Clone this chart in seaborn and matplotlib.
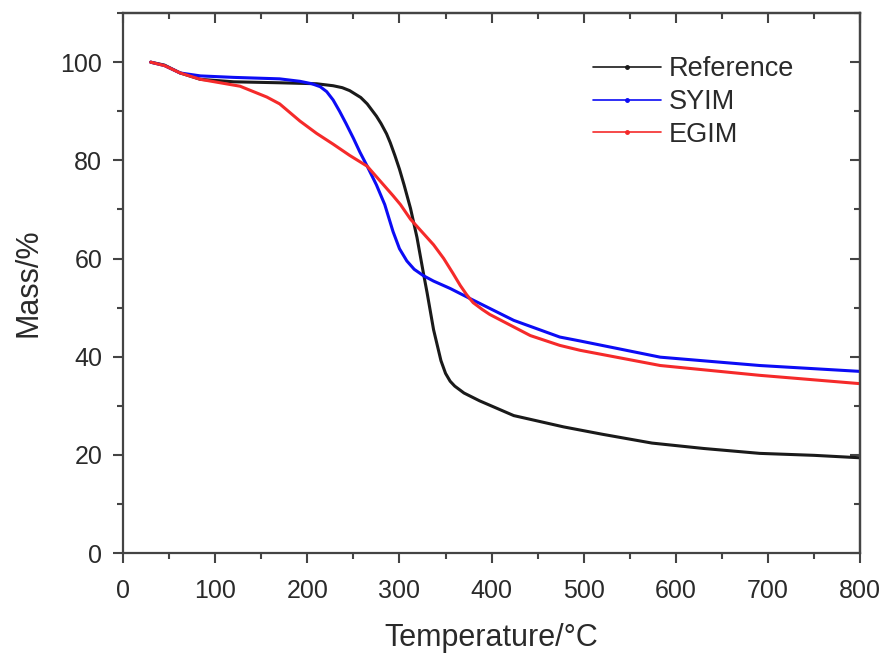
# Curvas TGA: Reference / SYIM / EGIM

import pandas as pd
import seaborn as sns
import matplotlib.pyplot as plt
from matplotlib.ticker import MultipleLocator
from matplotlib.lines import Line2D

sns.set_theme(style="ticks")
plt.rcParams['font.family'] = ['Liberation Sans', 'DejaVu Sans']

# Datos (Temperatura °C, Masa %)
ref_temp = [30, 45, 62, 84, 120, 170, 210, 228, 238, 246, 258, 265, 275, 280, 286, 290, 295, 300, 305, 312,
            319, 326, 330, 337, 345, 350, 355, 360, 370, 387, 424, 478, 520, 574, 630, 691, 750, 800]
ref_mass = [100, 99.4, 97.8, 96.5, 96.0, 95.8, 95.6, 95.2, 94.8, 94.2, 92.8, 91.5, 89.0, 87.5, 85.4, 83.6, 81.0, 78.2, 75.0, 70.2,
            64.3, 57.0, 53.0, 45.5, 39.2, 36.6, 35.0, 34.0, 32.6, 31.0, 28.0, 25.7, 24.2, 22.4, 21.3, 20.3, 19.9, 19.4]

syim_temp = [30, 45, 62, 84, 120, 170, 192, 205, 214, 221, 228, 235, 242, 250, 257, 265, 275, 284, 293,
             300, 308, 316, 326, 337, 355, 377, 424, 474, 496, 583, 691, 800]
syim_mass = [100, 99.3, 97.8, 97.2, 96.9, 96.6, 96.1, 95.6, 95.0, 94.0, 92.3, 90.0, 87.5, 84.5, 81.7, 78.8, 75.0, 71.0, 65.5,
             62.0, 59.5, 57.8, 56.5, 55.4, 53.9, 51.8, 47.4, 44.0, 43.2, 39.9, 38.2, 37.0]

egim_temp = [30, 45, 62, 84, 127, 156, 170, 192, 210, 228, 246, 265, 279, 293, 301, 312, 325,
             337, 348, 358, 366, 373, 380, 390, 398, 442, 474, 496, 583, 691, 800]
egim_mass = [100, 99.3, 97.8, 96.5, 95.1, 92.9, 91.5, 88.0, 85.5, 83.3, 81.0, 78.8, 75.8, 72.8, 71.0, 68.0, 65.3,
             62.8, 60.0, 57.0, 54.5, 52.6, 51.0, 49.6, 48.6, 44.3, 42.3, 41.3, 38.2, 36.2, 34.5]

series_names = ["Reference", "SYIM", "EGIM"]
PALETTE = {"Reference": "#1a1a1a", "SYIM": "#0c0cf5", "EGIM": "#f52a2a"}

df = pd.concat([
    pd.DataFrame({"temp": ref_temp, "mass": ref_mass, "muestra": "Reference"}),
    pd.DataFrame({"temp": syim_temp, "mass": syim_mass, "muestra": "SYIM"}),
    pd.DataFrame({"temp": egim_temp, "mass": egim_mass, "muestra": "EGIM"}),
])

fig = plt.figure(figsize=(8.85, 6.54), dpi=100)
ax = fig.add_axes([0.139, 0.1544, 0.833, 0.8256])

sns.lineplot(data=df, x="temp", y="mass", hue="muestra", palette=PALETTE,
             sort=False, estimator=None, linewidth=2.2, legend=False, ax=ax)

ax.set_xlim(0, 800)
ax.set_ylim(0, 110)
ax.xaxis.set_major_locator(MultipleLocator(100))
ax.xaxis.set_minor_locator(MultipleLocator(50))
ax.yaxis.set_major_locator(MultipleLocator(20))
ax.yaxis.set_minor_locator(MultipleLocator(10))

edge = "#444444"
for sp in ax.spines.values():
    sp.set_linewidth(1.6)
    sp.set_color(edge)
ax.tick_params(which="major", direction="out", length=7, width=1.5, color=edge,
               labelsize=18, labelcolor="#2a2a2a", pad=8)
ax.tick_params(axis="x", which="major", pad=12)
ax.tick_params(which="minor", direction="out", length=4, width=1.5, color=edge)

# ticks espejo hacia dentro (arriba y derecha)
top = ax.secondary_xaxis("top")
right = ax.secondary_yaxis("right")
for sec, axis in ((top, top.xaxis), (right, right.yaxis)):
    axis.set_major_locator(MultipleLocator(100 if sec is top else 20))
    axis.set_minor_locator(MultipleLocator(50 if sec is top else 10))
    sec.tick_params(which="major", direction="in", length=7, width=1.5, color=edge)
    sec.tick_params(which="minor", direction="in", length=4, width=1.5, color=edge)
    axis.set_ticklabels([])
    for sp in sec.spines.values():
        sp.set_linewidth(1.6)
        sp.set_color(edge)

ax.set_xlabel("Temperature/°C", fontsize=22, color="#2a2a2a", labelpad=14)
ax.set_ylabel("Mass/%", fontsize=22, color="#2a2a2a", labelpad=12)

handles = [Line2D([0], [0], color=PALETTE[n], lw=1.2, marker="o", markersize=2.5)
           for n in series_names]
ax.legend(handles, series_names, loc="upper left", bbox_to_anchor=(0.638, 0.92),
          frameon=False, fontsize=19.5, handlelength=2.5, handletextpad=0.3,
          labelspacing=0.25, borderpad=0, borderaxespad=0, labelcolor="#2a2a2a")

plt.savefig("out.png", dpi=100)
plt.close()
